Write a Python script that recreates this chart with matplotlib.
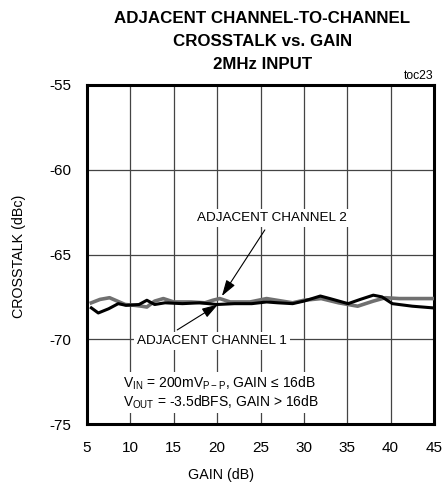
import matplotlib
matplotlib.use("Agg")
import matplotlib.pyplot as plt

plt.rcParams['font.family'] = ['Liberation Sans', 'DejaVu Sans']
plt.rcParams['mathtext.fontset'] = 'custom'
plt.rcParams['mathtext.rm'] = 'Liberation Sans'
plt.rcParams['mathtext.default'] = 'regular'

# Data
gain_ch1 = [5.5, 6.3, 7.5, 8.6, 9.5, 11.0, 11.9, 12.8, 14.0, 16.0, 18.0, 20.0, 22.0, 24.0,
            25.7, 27.0, 28.7, 30.0, 31.9, 33.0, 35.1, 36.5, 38.0, 39.0, 40.2, 42.5, 44.9]
xtalk_ch1 = [-68.15, -68.45, -68.2, -67.9, -68.0, -67.95, -67.7, -67.95, -67.85, -67.9, -67.85,
             -67.95, -67.9, -67.9, -67.8, -67.85, -67.9, -67.75, -67.45, -67.6, -67.9, -67.65,
             -67.4, -67.5, -67.9, -68.05, -68.15]
gain_ch2 = [5.5, 6.5, 7.6, 8.5, 9.4, 10.5, 11.3, 11.9, 12.8, 13.8, 15.0, 17.0, 18.6, 19.5, 20.3,
            21.5, 23.8, 25.7, 27.5, 28.7, 30.0, 32.0, 34.0, 36.2, 38.0, 39.4, 41.0, 44.9]
xtalk_ch2 = [-67.85, -67.65, -67.55, -67.75, -67.95, -68.0, -68.05, -68.1, -67.75, -67.6, -67.8,
             -67.8, -67.85, -67.7, -67.6, -67.8, -67.8, -67.6, -67.75, -67.85, -67.7, -67.6,
             -67.85, -68.05, -67.75, -67.55, -67.6, -67.6]
x_ticks = [5, 10, 15, 20, 25, 30, 35, 40, 45]
y_ticks = [-75, -70, -65, -60, -55]
title_lines = ['ADJACENT CHANNEL-TO-CHANNEL', 'CROSSTALK vs. GAIN', '2MHz INPUT']

W, H = 443, 486
fig = plt.figure(figsize=(W / 100, H / 100), dpi=100)
ax = fig.add_axes([87 / W, 1 - 424 / H, (434 - 87) / W, (424 - 85) / H])

ax.set_xlim(5, 45)
ax.set_ylim(-75, -55)
ax.set_xticks(x_ticks)
ax.set_yticks(y_ticks)
ax.set_xticklabels([str(t) for t in x_ticks], fontsize=11)
ax.set_yticklabels([str(t) for t in y_ticks], fontsize=11)
ax.tick_params(axis='x', length=0, pad=12)
ax.tick_params(axis='y', length=0, pad=11)
ax.grid(True, color='#444444', linewidth=0.9)
ax.set_axisbelow(True)
for s in ax.spines.values():
    s.set_linewidth(2.2)
    s.set_color('black')

ax.plot(gain_ch2, xtalk_ch2, color='#707070', linewidth=2.6, zorder=3)
ax.plot(gain_ch1, xtalk_ch1, color='black', linewidth=2.2, zorder=4)

bbox = dict(facecolor='white', edgecolor='none', pad=2)
arrow = dict(arrowstyle='-|>,head_length=0.7,head_width=0.22', color='black', lw=0.8,
             mutation_scale=14, shrinkA=0, shrinkB=0)
ax.text(26.3, -62.85, 'ADJACENT CHANNEL 2', fontsize=9.7, ha='center', va='center', bbox=bbox, zorder=5)
ax.annotate('', xy=(20.55, -67.45), xytext=(25.5, -63.55), arrowprops=arrow, zorder=5)
ax.text(19.4, -70.1, 'ADJACENT CHANNEL 1', fontsize=9.7, ha='center', va='center', bbox=bbox, zorder=5)
ax.annotate('', xy=(20.1, -67.95), xytext=(15.4, -69.45), arrowprops=arrow, zorder=5)
ax.text(9.15, -72.6, r'V$_{IN}$ = 200mV$_{P-P}$, GAIN ≤ 16dB', fontsize=10, ha='left', va='center',
        bbox=bbox, zorder=5)
ax.text(9.15, -73.7, r'V$_{OUT}$ = -3.5dBFS, GAIN > 16dB', fontsize=10, ha='left', va='center',
        bbox=bbox, zorder=5)

fig.text(221.5 / W, 1 - 475 / H, 'GAIN (dB)', fontsize=10.3, ha='center', va='center')
fig.text(19.5 / W, 1 - 256 / H, 'CROSSTALK (dBc)', fontsize=10.3, ha='center', va='center',
         rotation=90)

for line, yc in zip(title_lines, [18.5, 42.0, 64.5]):
    fig.text(262.5 / W, 1 - yc / H, line, ha='center', va='center', fontsize=12.2,
             fontweight='bold')
fig.text(433 / W, 1 - 76 / H, 'toc23', ha='right', va='center', fontsize=8.7)

fig.savefig('out.png', dpi=100)
